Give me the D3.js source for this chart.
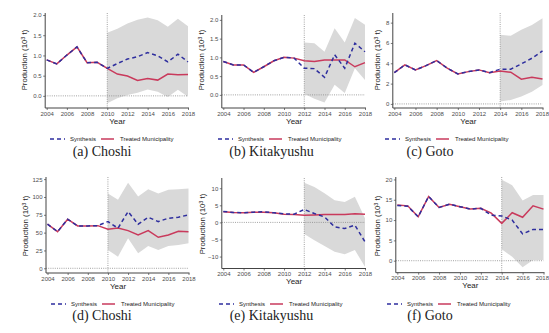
<!DOCTYPE html>
<html><head><meta charset="utf-8">
<script src="https://cdn.jsdelivr.net/npm/d3@7"></script>
<style>body{margin:0;background:#fff}svg{display:block}</style>
</head><body>
<script>
// ---------- DATA ----------
const years = d3.range(2004, 2019);
const xTickLabels = ["2004","2006","2008","2010","2012","2014","2016","2018"];
const panelLabels = ["(a) Choshi","(b) Kitakyushu","(c) Goto","(d) Choshi","(e) Kitakyushu","(f) Goto"];
const treatYears = [2010, 2012, 2014, 2010, 2012, 2014];
const yTicksA = [0, 0.5, 1.0, 1.5, 2.0];
const yTicksB = [0, 0.5, 1.0, 1.5, 2.0];
const yTicksC = [0, 2, 4, 6, 8];
const yTicksD = [0, 25, 50, 75, 100, 125];
const yTicksE = [-10, -5, 0, 5, 10];
const yTicksF = [0, 5, 10, 15, 20];

// (a) Choshi
const treatedA = [0.89,0.79,1.01,1.21,0.82,0.83,0.68,0.54,0.49,0.38,0.43,0.39,0.54,0.52,0.53];
const synthA   = [0.89,0.79,1.01,1.21,0.82,0.83,0.68,0.80,0.91,0.97,1.07,0.99,0.84,1.03,0.84];
const upperA   = [1.56,1.66,1.79,1.88,1.94,1.87,1.71,1.91,1.72];
const lowerA   = [-0.18,-0.06,0.02,0.08,0.16,0.10,-0.03,0.15,-0.02];
// (b) Kitakyushu
const treatedB = [0.89,0.80,0.80,0.60,0.75,0.91,1.00,0.98,0.91,0.89,0.93,0.93,0.93,0.75,0.86];
const synthB   = [0.89,0.80,0.80,0.60,0.75,0.91,1.00,0.98,0.71,0.70,0.47,1.07,0.71,1.38,1.15];
const upperB   = [1.40,1.38,1.15,1.78,1.40,2.05,1.87];
const lowerB   = [0.03,-0.10,-0.20,0.27,0.05,0.71,0.40];
// (c) Goto
const treatedC = [3.08,3.84,3.35,3.77,4.27,3.52,2.96,3.18,3.35,3.08,3.25,3.12,2.43,2.63,2.46];
const synthC   = [3.08,3.84,3.35,3.77,4.27,3.52,2.96,3.18,3.35,3.08,3.42,3.42,3.94,4.50,5.22];
const upperC   = [6.80,6.70,7.30,7.78,8.44];
const lowerC   = [0.23,0.39,0.72,1.21,1.87];
// (d) Choshi
const treatedD = [61.8,51.4,68.8,59.4,59.4,59.8,54.8,56.5,52.8,46.8,52.8,43.5,46.8,52.0,51.4];
const synthD   = [61.8,51.4,68.8,59.4,59.4,59.8,65.5,56.2,79.5,61.8,71.6,65.5,70.2,71.6,74.9];
const upperD   = [105,96,120,100.6,111,105,110,111,112];
const lowerD   = [25.7,16.3,42,21,31.3,25.7,31.3,32.7,35];
// (e) Kitakyushu
const treatedE = [3.1,2.9,2.8,3.0,3.0,2.8,2.4,2.3,2.1,2.2,2.3,2.3,2.3,2.5,2.4];
const synthE   = [3.2,2.9,2.8,3.0,3.1,2.8,2.5,2.4,3.8,2.6,1.6,-1.3,-1.8,-0.8,-5.7];
const upperE   = [11.6,10.4,8.5,6.5,6.0,7.5,1.2];
const lowerE   = [-3.4,-5.2,-6.9,-8.6,-9.3,-8.1,-13];
// (f) Goto
const treatedF = [13.7,13.5,10.8,15.8,13.1,13.9,13.3,12.7,12.9,11.7,9.2,11.8,10.7,13.5,12.7];
const synthF   = [13.6,13.4,10.8,15.8,13.1,13.9,13.3,12.7,12.9,11.2,11.0,10.0,6.6,7.7,7.7];
const upperF   = [19.9,18.6,14.8,16.2,16.2];
const lowerF   = [2.8,1.0,-1.6,0.2,0.2];

// ---------- LAYOUT ----------
const panels = [
  {treated:treatedA, synth:synthA, upper:upperA, lower:lowerA, ticks:yTicksA, fmt:d3.format(".1f"), x0:46.7, x1:188,  top:13,  bot:108, dom:[-0.3,2.05],  ylx:27,  ly:60,  legY:139, capY:151, capX:102,   legX:50,  capIdx:0},
  {treated:treatedB, synth:synthB, upper:upperB, lower:lowerB, ticks:yTicksB, fmt:d3.format(".1f"), x0:223.3,x1:365,  top:15,  bot:108, dom:[-0.35,2.13], ylx:204, ly:60,  legY:139, capY:151, capX:271.5, legX:218, capIdx:1},
  {treated:treatedC, synth:synthC, upper:upperC, lower:lowerC, ticks:yTicksC, fmt:d3.format("d"),   x0:394.3,x1:542.5,top:13,  bot:108, dom:[-0.4,8.95],  ylx:380, ly:60,  legY:139, capY:151, capX:430,   legX:385, capIdx:2},
  {treated:treatedD, synth:synthD, upper:upperD, lower:lowerD, ticks:yTicksD, fmt:d3.format("d"),   x0:47.5, x1:188.5,top:177, bot:273, dom:[-6.6,128],   ylx:28,  ly:226, legY:304, capY:315, capX:102,   legX:51,  capIdx:3},
  {treated:treatedE, synth:synthE, upper:upperE, lower:lowerE, ticks:yTicksE, fmt:d3.format("d"),   x0:223.3,x1:365,  top:178, bot:268.5,dom:[-13.5,13],  ylx:205, ly:224, legY:304, capY:315, capX:271.5, legX:219, capIdx:4},
  {treated:treatedF, synth:synthF, upper:upperF, lower:lowerF, ticks:yTicksF, fmt:d3.format("d"),   x0:397.3,x1:543.5,top:177, bot:272.7,dom:[-2.95,20.6], ylx:380, ly:226, legY:304, capY:315, capX:430,   legX:387, capIdx:5}
];

const W = 549, H = 333;
const RED = "#c93a5c", BLUE = "#2e2e9e", BAND = "#d9d9d9", AX = "#444", TXT = "#4d4d4d";
const svg = d3.select("body").append("svg").attr("width", W).attr("height", H);

panels.forEach((p, i) => {
  const tYear = treatYears[i];
  const x = d3.scaleLinear().domain([2004, 2018]).range([p.x0, p.x1]);
  const y = d3.scaleLinear().domain(p.dom).range([p.bot, p.top]);
  const g = svg.append("g");

  // band
  const bandYears = years.filter(yr => yr >= tYear);
  const bandData = bandYears.map((yr, k) => ({yr, lo: p.lower[k], hi: p.upper[k]}));
  g.append("path").datum(bandData)
    .attr("fill", BAND)
    .attr("d", d3.area().x(d => x(d.yr)).y0(d => y(d.lo)).y1(d => y(d.hi)));

  // zero line and treatment line
  g.append("line").attr("x1", p.x0 - 1.5).attr("x2", p.x1).attr("y1", y(0)).attr("y2", y(0))
    .attr("stroke", "#8a8a8a").attr("stroke-width", 0.8).attr("stroke-dasharray", "1,1.2");
  g.append("line").attr("x1", x(tYear)).attr("x2", x(tYear)).attr("y1", p.top).attr("y2", p.bot)
    .attr("stroke", "#8a8a8a").attr("stroke-width", 0.8).attr("stroke-dasharray", "1,1.2");

  // axes
  const xAxis = d3.axisBottom(x).tickValues(xTickLabels.map(Number)).tickFormat(d3.format("d")).tickSize(2).tickPadding(1.5);
  const gx = g.append("g").attr("transform", `translate(0,${p.bot})`).call(xAxis);
  gx.select(".domain").attr("d", `M${p.x0 - 1.5},0H${p.x1 + 1}`);
  const yAxis = d3.axisLeft(y).tickValues(p.ticks).tickFormat(p.fmt).tickSize(2).tickPadding(1.5);
  const gy = g.append("g").attr("transform", `translate(${p.x0 - 1.5},0)`).call(yAxis);
  gy.select(".domain").attr("d", `M0,${p.top}V${p.bot}`);
  [gx, gy].forEach(a => {
    a.selectAll(".domain").attr("stroke", AX).attr("stroke-width", 1);
    a.selectAll(".tick line").attr("stroke", AX).attr("stroke-width", 0.7);
    a.selectAll("text").attr("fill", TXT).attr("font-size", 6).attr("font-family", "Liberation Sans, Arial, sans-serif");
  });
  // keep the last year label inside the window at the right edge
  if (p.x1 + 8 > W) {
    gx.selectAll(".tick").filter(d => d === 2018).select("text")
      .attr("text-anchor", "end").attr("x", W - p.x1 - 0.5);
  }

  // lines
  const line = d3.line().x((d, k) => x(years[k])).y(d => y(d));
  g.append("path").datum(p.treated).attr("d", line).attr("fill", "none")
    .attr("stroke", RED).attr("stroke-width", 1.5);
  g.append("path").datum(p.synth).attr("d", line).attr("fill", "none")
    .attr("stroke", BLUE).attr("stroke-width", 1.5).attr("stroke-dasharray", "4,3");

  // axis labels
  g.append("text").attr("x", (p.x0 + p.x1) / 2).attr("y", p.bot + 15.5)
    .attr("text-anchor", "middle").attr("font-size", 8).attr("fill", "#222")
    .attr("font-family", "Liberation Sans, Arial, sans-serif").text("Year");
  const yl = g.append("text").attr("transform", `translate(${p.ylx},${p.ly}) rotate(-90)`)
    .attr("text-anchor", "middle").attr("font-size", 7.8).attr("fill", "#222")
    .attr("font-family", "Liberation Sans, Arial, sans-serif");
  yl.append("tspan").text("Production (10");
  yl.append("tspan").attr("dy", -2.5).attr("font-size", 5.5).text("3");
  yl.append("tspan").attr("dy", 2.5).text(" t)");

  // legend
  const lg = g.append("g").attr("transform", `translate(${p.legX},${p.legY})`);
  lg.append("line").attr("x1", 0).attr("x2", 15).attr("y1", 0).attr("y2", 0)
    .attr("stroke", BLUE).attr("stroke-width", 1.5).attr("stroke-dasharray", "4,3");
  lg.append("text").attr("x", 20).attr("y", 2).attr("font-size", 6).attr("fill", "#222")
    .attr("font-family", "Liberation Sans, Arial, sans-serif").text("Synthesis");
  lg.append("line").attr("x1", 51).attr("x2", 64).attr("y1", 0).attr("y2", 0)
    .attr("stroke", RED).attr("stroke-width", 1.5);
  lg.append("text").attr("x", 70).attr("y", 2).attr("font-size", 6).attr("fill", "#222")
    .attr("font-family", "Liberation Sans, Arial, sans-serif").text("Treated Municipality");

  // caption
  svg.append("text").attr("x", p.capX).attr("y", p.capY + 5)
    .attr("text-anchor", "middle").attr("font-size", 14).attr("fill", "#222")
    .attr("font-family", "Liberation Serif, DejaVu Serif, serif").text(panelLabels[p.capIdx]);
});
</script>
</body></html>
